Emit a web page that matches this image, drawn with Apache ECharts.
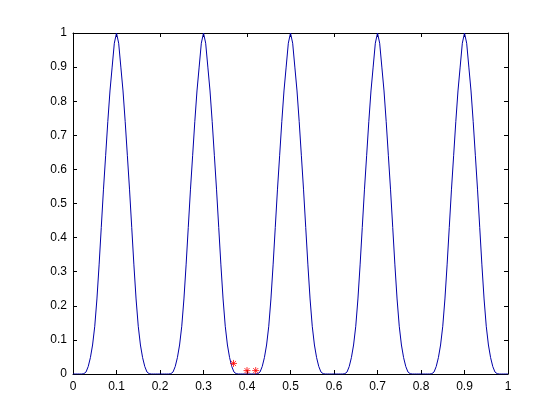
<!DOCTYPE html>
<html>
<head>
<meta charset="utf-8">
<script src="https://cdn.jsdelivr.net/npm/echarts@6/dist/echarts.min.js"></script>
<style>
  html, body { margin: 0; padding: 0; background: #fff; }
  #chart { width: 560px; height: 420px; }
</style>
</head>
<body>
<div id="chart"></div>
<script>
// sample positions of the blue curve
const curveX = [
  0.000, 0.005, 0.010, 0.015, 0.020, 0.025, 0.030, 0.035, 0.040, 0.045,
  0.050, 0.055, 0.060, 0.065, 0.070, 0.075, 0.080, 0.085, 0.090, 0.095,
  0.100, 0.105, 0.110, 0.115, 0.120, 0.125, 0.130, 0.135, 0.140, 0.145,
  0.150, 0.155, 0.160, 0.165, 0.170, 0.175, 0.180, 0.185, 0.190, 0.195,
  0.200, 0.205, 0.210, 0.215, 0.220, 0.225, 0.230, 0.235, 0.240, 0.245,
  0.250, 0.255, 0.260, 0.265, 0.270, 0.275, 0.280, 0.285, 0.290, 0.295,
  0.300, 0.305, 0.310, 0.315, 0.320, 0.325, 0.330, 0.335, 0.340, 0.345,
  0.350, 0.355, 0.360, 0.365, 0.370, 0.375, 0.380, 0.385, 0.390, 0.395,
  0.400, 0.405, 0.410, 0.415, 0.420, 0.425, 0.430, 0.435, 0.440, 0.445,
  0.450, 0.455, 0.460, 0.465, 0.470, 0.475, 0.480, 0.485, 0.490, 0.495,
  0.500, 0.505, 0.510, 0.515, 0.520, 0.525, 0.530, 0.535, 0.540, 0.545,
  0.550, 0.555, 0.560, 0.565, 0.570, 0.575, 0.580, 0.585, 0.590, 0.595,
  0.600, 0.605, 0.610, 0.615, 0.620, 0.625, 0.630, 0.635, 0.640, 0.645,
  0.650, 0.655, 0.660, 0.665, 0.670, 0.675, 0.680, 0.685, 0.690, 0.695,
  0.700, 0.705, 0.710, 0.715, 0.720, 0.725, 0.730, 0.735, 0.740, 0.745,
  0.750, 0.755, 0.760, 0.765, 0.770, 0.775, 0.780, 0.785, 0.790, 0.795,
  0.800, 0.805, 0.810, 0.815, 0.820, 0.825, 0.830, 0.835, 0.840, 0.845,
  0.850, 0.855, 0.860, 0.865, 0.870, 0.875, 0.880, 0.885, 0.890, 0.895,
  0.900, 0.905, 0.910, 0.915, 0.920, 0.925, 0.930, 0.935, 0.940, 0.945,
  0.950, 0.955, 0.960, 0.965, 0.970, 0.975, 0.980, 0.985, 0.990, 0.995,
  1.000
];

// values
const curveY = [
  0, 0, 0, 0, 0, 0.001, 0.006, 0.022, 0.048, 0.085,
  0.14, 0.22, 0.32, 0.43, 0.54, 0.64, 0.74, 0.83, 0.90, 0.97,
  1.00, 0.97, 0.90, 0.83, 0.74, 0.64, 0.54, 0.43, 0.32, 0.22,
  0.14, 0.085, 0.048, 0.022, 0.006, 0.001, 0, 0, 0, 0,
  0, 0, 0, 0, 0, 0.001, 0.006, 0.022, 0.048, 0.085,
  0.14, 0.22, 0.32, 0.43, 0.54, 0.64, 0.74, 0.83, 0.90, 0.97,
  1.00, 0.97, 0.90, 0.83, 0.74, 0.64, 0.54, 0.43, 0.32, 0.22,
  0.14, 0.085, 0.048, 0.022, 0.006, 0.001, 0, 0, 0, 0,
  0, 0, 0, 0, 0, 0.001, 0.006, 0.022, 0.048, 0.085,
  0.14, 0.22, 0.32, 0.43, 0.54, 0.64, 0.74, 0.83, 0.90, 0.97,
  1.00, 0.97, 0.90, 0.83, 0.74, 0.64, 0.54, 0.43, 0.32, 0.22,
  0.14, 0.085, 0.048, 0.022, 0.006, 0.001, 0, 0, 0, 0,
  0, 0, 0, 0, 0, 0.001, 0.006, 0.022, 0.048, 0.085,
  0.14, 0.22, 0.32, 0.43, 0.54, 0.64, 0.74, 0.83, 0.90, 0.97,
  1.00, 0.97, 0.90, 0.83, 0.74, 0.64, 0.54, 0.43, 0.32, 0.22,
  0.14, 0.085, 0.048, 0.022, 0.006, 0.001, 0, 0, 0, 0,
  0, 0, 0, 0, 0, 0.001, 0.006, 0.022, 0.048, 0.085,
  0.14, 0.22, 0.32, 0.43, 0.54, 0.64, 0.74, 0.83, 0.90, 0.97,
  1.00, 0.97, 0.90, 0.83, 0.74, 0.64, 0.54, 0.43, 0.32, 0.22,
  0.14, 0.085, 0.048, 0.022, 0.006, 0.001, 0, 0, 0, 0,
  0
];

// red star markers
const starX = [0.369, 0.400, 0.420];
const starY = [0.031, 0.010, 0.010];

const asterisk = 'path://M0,-5L0,5M-5,0L5,0M-3.6,-3.6L3.6,3.6M-3.6,3.6L3.6,-3.6';

const chart = echarts.init(document.getElementById('chart'));

const tickText = {
  color: '#000',
  fontSize: 12,
  fontFamily: 'Liberation Sans, Arial, sans-serif'
};

const baseAxis = {
  type: 'value',
  min: 0,
  max: 1,
  interval: 0.1,
  axisLine: { show: true, onZero: false, lineStyle: { color: '#000', width: 1 } },
  axisTick: { show: true, inside: true, length: 4, lineStyle: { color: '#000' } },
  splitLine: { show: false }
};

chart.setOption({
  backgroundColor: '#fff',
  animation: false,
  grid: { left: 73, right: 52, top: 33, bottom: 46, containLabel: false },
  xAxis: [
    Object.assign({}, baseAxis, {
      position: 'bottom',
      axisLabel: Object.assign({ margin: 7 }, tickText)
    }),
    Object.assign({}, baseAxis, {
      position: 'top',
      axisLabel: { show: false }
    })
  ],
  yAxis: [
    Object.assign({}, baseAxis, {
      position: 'left',
      axisLabel: Object.assign({ margin: 6 }, tickText)
    }),
    Object.assign({}, baseAxis, {
      position: 'right',
      axisLabel: { show: false }
    })
  ],
  series: [
    {
      type: 'line',
      data: curveX.map((x, i) => [x, curveY[i]]),
      showSymbol: false,
      lineStyle: { color: '#0000a8', width: 1 },
      z: 2
    },
    {
      type: 'scatter',
      data: starX.map((x, i) => [x, starY[i]]),
      symbol: asterisk,
      symbolSize: 7,
      itemStyle: { color: 'none', borderColor: '#ff0000', borderWidth: 1 },
      z: 3
    }
  ]
});
</script>
</body>
</html>
